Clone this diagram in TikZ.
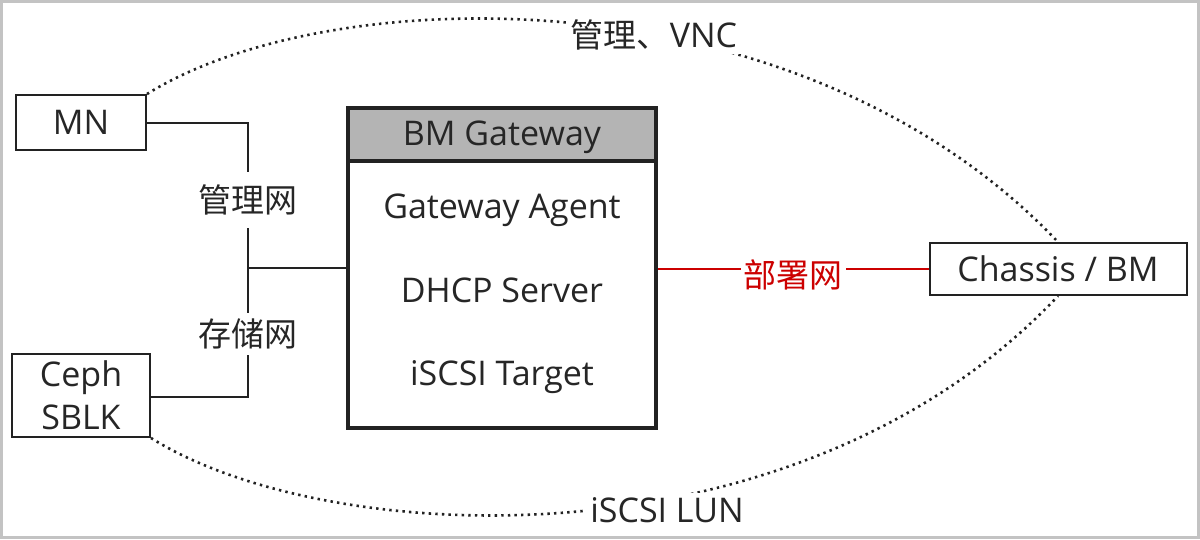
\documentclass[tikz,border=0pt]{standalone}
\usepackage{fontspec}
\setmainfont{Open Sans}
\newfontfamily\cjk{Noto Sans CJK SC}
\definecolor{ink}{HTML}{262626}
\definecolor{linec}{HTML}{222222}
\definecolor{hdr}{HTML}{B4B4B4}
\definecolor{frame}{HTML}{C3C3C3}
\definecolor{netred}{HTML}{CC0000}
\newcommand{\latf}{\fontsize{34}{43}\selectfont}
\newcommand{\cjkf}{\cjk\fontsize{33}{40}\selectfont}
\tikzset{
  boxnode/.style={draw=linec, line width=2pt, inner sep=0pt, text=ink, font=\latf, align=center},
  txt/.style={inner sep=0pt, text=ink, font=\latf, anchor=base},
  cjklbl/.style={inner sep=0pt, fill=white, text=ink, font=\cjkf},
  conn/.style={draw=linec, line width=2pt},
  dotline/.style={draw=linec, line width=2.6pt, dash pattern=on 2.4pt off 4.2pt},
}
\begin{document}
\begin{tikzpicture}[x=1pt,y=-1pt]
\useasboundingbox (0,0) rectangle (1200,539);
\fill[frame] (0,0) rectangle (1200,539);
\fill[white] (3,3) rectangle (1197,536);

% nodes
\node[boxnode, minimum width=130pt, minimum height=55pt] (mn) at (81,122.5) {MN};
\node[boxnode, minimum width=138pt, minimum height=83pt] (ceph) at (81,395.5) {Ceph\\SBLK};
\node[boxnode, minimum width=257pt, minimum height=52pt] (ch) at (1058,269) {Chassis / BM};

\node[draw=linec, line width=3.5pt, minimum width=308pt, minimum height=320pt, inner sep=0pt] (gw) at (502,268) {};
\node[draw=linec, fill=hdr, line width=3.5pt, minimum width=308pt, minimum height=53pt, inner sep=0pt, anchor=north] (gwh) at (gw.north) {};
\node[txt] (gwt) at (502,145) {BM Gateway};
\node[txt] (agent) at (502,218) {Gateway Agent};
\node[txt] (dhcp) at (502,302) {DHCP Server};
\node[txt] (iscsi) at (502,385) {iSCSI Target};

% left network connectors
\coordinate (j) at (248,268);
\draw[conn] (mn.east) -| (j);
\draw[conn] (ceph.east |- 0,397) -| (j);
\draw[conn] (j) -- (gw.west);
\node[cjklbl, minimum height=56pt] (mgmt) at (248,200) {管理网};
\node[cjklbl, minimum height=42pt] (stor) at (248,334) {存储网};

% deploy network
\draw[netred, line width=2pt] (gw.east |- ch.west) -- (ch.west);
\node[inner sep=3pt, fill=white, text=netred, font=\cjkf] (dep) at (793,275) {部署网};

% dotted curves
\draw[dotline] (mn.north east) .. controls (330,-20) and (800,-30) .. (ch.north);
\draw[dotline] (ceph.south east) .. controls (330,550) and (800,570) .. (ch.south);
\node[inner sep=4pt, fill=white, text=ink, font=\latf] (vnc) at (654,35) {{\cjkf 管理、}VNC};
\node[inner sep=4pt, fill=white, text=ink, font=\latf, anchor=base] (lun) at (667,522) {iSCSI LUN};
\end{tikzpicture}
\end{document}
